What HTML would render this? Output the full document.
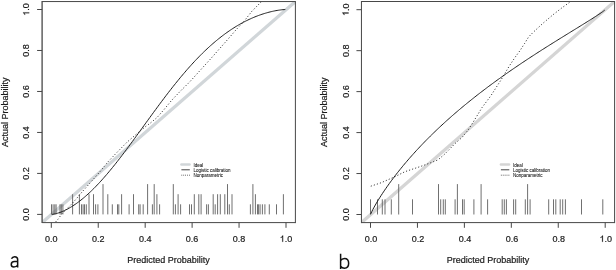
<!DOCTYPE html>
<html><head><meta charset="utf-8"><style>
html,body{margin:0;padding:0;background:#fff;}
svg{display:block;will-change:transform;}
text{font-family:"Liberation Sans",sans-serif;fill:#1a1a1a;stroke:#1a1a1a;stroke-width:0.2px;}
.lg{stroke-width:0.06px;fill:#111;stroke:#111;}
</style></head><body>
<svg width="616" height="270" viewBox="0 0 616 270">
<rect width="616" height="270" fill="#fff"/>
<clipPath id="c51"><rect x="42.1" y="1.55" width="253.3" height="221.05"/></clipPath>
<line x1="42.1" y1="222.6" x2="295.4" y2="1.55" stroke="#d1d6d9" stroke-width="3.3" clip-path="url(#c51)"/>
<line x1="51.5" y1="214.4" x2="51.5" y2="204.3" stroke="#606060" stroke-width="0.9"/>
<line x1="53.1" y1="214.4" x2="53.1" y2="204.3" stroke="#606060" stroke-width="0.9"/>
<line x1="54.8" y1="214.4" x2="54.8" y2="204.3" stroke="#606060" stroke-width="0.9"/>
<line x1="56.1" y1="214.4" x2="56.1" y2="204.3" stroke="#606060" stroke-width="0.9"/>
<line x1="60" y1="214.4" x2="60" y2="204.3" stroke="#606060" stroke-width="0.9"/>
<line x1="61.3" y1="214.4" x2="61.3" y2="204.3" stroke="#606060" stroke-width="0.9"/>
<line x1="62.9" y1="214.4" x2="62.9" y2="204.3" stroke="#606060" stroke-width="0.9"/>
<line x1="72.6" y1="214.4" x2="72.6" y2="194.2" stroke="#606060" stroke-width="0.9"/>
<line x1="79.4" y1="214.4" x2="79.4" y2="194.2" stroke="#606060" stroke-width="0.9"/>
<line x1="81.5" y1="214.4" x2="81.5" y2="204.3" stroke="#606060" stroke-width="0.9"/>
<line x1="83.1" y1="214.4" x2="83.1" y2="204.3" stroke="#606060" stroke-width="0.9"/>
<line x1="84.5" y1="214.4" x2="84.5" y2="204.3" stroke="#606060" stroke-width="0.9"/>
<line x1="86.3" y1="214.4" x2="86.3" y2="204.3" stroke="#606060" stroke-width="0.9"/>
<line x1="89" y1="214.4" x2="89" y2="194.2" stroke="#606060" stroke-width="0.9"/>
<line x1="93.5" y1="214.4" x2="93.5" y2="194.2" stroke="#606060" stroke-width="0.9"/>
<line x1="95.6" y1="214.4" x2="95.6" y2="204.3" stroke="#606060" stroke-width="0.9"/>
<line x1="97.9" y1="214.4" x2="97.9" y2="204.3" stroke="#606060" stroke-width="0.9"/>
<line x1="103" y1="214.4" x2="103" y2="184.1" stroke="#606060" stroke-width="0.9"/>
<line x1="107.8" y1="214.4" x2="107.8" y2="194.2" stroke="#606060" stroke-width="0.9"/>
<line x1="112.3" y1="214.4" x2="112.3" y2="204.3" stroke="#606060" stroke-width="0.9"/>
<line x1="117.5" y1="214.4" x2="117.5" y2="204.3" stroke="#606060" stroke-width="0.9"/>
<line x1="118.8" y1="214.4" x2="118.8" y2="204.3" stroke="#606060" stroke-width="0.9"/>
<line x1="121.6" y1="214.4" x2="121.6" y2="194.2" stroke="#606060" stroke-width="0.9"/>
<line x1="129.1" y1="214.4" x2="129.1" y2="204.3" stroke="#606060" stroke-width="0.9"/>
<line x1="133.5" y1="214.4" x2="133.5" y2="194.2" stroke="#606060" stroke-width="0.9"/>
<line x1="138.7" y1="214.4" x2="138.7" y2="204.3" stroke="#606060" stroke-width="0.9"/>
<line x1="140.1" y1="214.4" x2="140.1" y2="204.3" stroke="#606060" stroke-width="0.9"/>
<line x1="143.2" y1="214.4" x2="143.2" y2="204.3" stroke="#606060" stroke-width="0.9"/>
<line x1="147.6" y1="214.4" x2="147.6" y2="184.1" stroke="#606060" stroke-width="0.9"/>
<line x1="152.4" y1="214.4" x2="152.4" y2="204.3" stroke="#606060" stroke-width="0.9"/>
<line x1="154.2" y1="214.4" x2="154.2" y2="184.1" stroke="#606060" stroke-width="0.9"/>
<line x1="156.9" y1="214.4" x2="156.9" y2="194.2" stroke="#606060" stroke-width="0.9"/>
<line x1="159.6" y1="214.4" x2="159.6" y2="204.3" stroke="#606060" stroke-width="0.9"/>
<line x1="173.3" y1="214.4" x2="173.3" y2="184.1" stroke="#606060" stroke-width="0.9"/>
<line x1="175.4" y1="214.4" x2="175.4" y2="204.3" stroke="#606060" stroke-width="0.9"/>
<line x1="178.1" y1="214.4" x2="178.1" y2="194.2" stroke="#606060" stroke-width="0.9"/>
<line x1="180.6" y1="214.4" x2="180.6" y2="204.3" stroke="#606060" stroke-width="0.9"/>
<line x1="189.5" y1="214.4" x2="189.5" y2="204.3" stroke="#606060" stroke-width="0.9"/>
<line x1="191.5" y1="214.4" x2="191.5" y2="204.3" stroke="#606060" stroke-width="0.9"/>
<line x1="194.3" y1="214.4" x2="194.3" y2="194.2" stroke="#606060" stroke-width="0.9"/>
<line x1="198.8" y1="214.4" x2="198.8" y2="194.2" stroke="#606060" stroke-width="0.9"/>
<line x1="201.1" y1="214.4" x2="201.1" y2="194.2" stroke="#606060" stroke-width="0.9"/>
<line x1="206.6" y1="214.4" x2="206.6" y2="204.3" stroke="#606060" stroke-width="0.9"/>
<line x1="208.4" y1="214.4" x2="208.4" y2="204.3" stroke="#606060" stroke-width="0.9"/>
<line x1="213.2" y1="214.4" x2="213.2" y2="194.2" stroke="#606060" stroke-width="0.9"/>
<line x1="215.2" y1="214.4" x2="215.2" y2="204.3" stroke="#606060" stroke-width="0.9"/>
<line x1="217.6" y1="214.4" x2="217.6" y2="194.2" stroke="#606060" stroke-width="0.9"/>
<line x1="220.3" y1="214.4" x2="220.3" y2="194.2" stroke="#606060" stroke-width="0.9"/>
<line x1="224.8" y1="214.4" x2="224.8" y2="194.2" stroke="#606060" stroke-width="0.9"/>
<line x1="227.5" y1="214.4" x2="227.5" y2="184.1" stroke="#606060" stroke-width="0.9"/>
<line x1="229.3" y1="214.4" x2="229.3" y2="204.3" stroke="#606060" stroke-width="0.9"/>
<line x1="232" y1="214.4" x2="232" y2="194.2" stroke="#606060" stroke-width="0.9"/>
<line x1="250.4" y1="214.4" x2="250.4" y2="204.3" stroke="#606060" stroke-width="0.9"/>
<line x1="252.9" y1="214.4" x2="252.9" y2="184.1" stroke="#606060" stroke-width="0.9"/>
<line x1="255.4" y1="214.4" x2="255.4" y2="194.2" stroke="#606060" stroke-width="0.9"/>
<line x1="257.5" y1="214.4" x2="257.5" y2="204.3" stroke="#606060" stroke-width="0.9"/>
<line x1="258.6" y1="214.4" x2="258.6" y2="204.3" stroke="#606060" stroke-width="0.9"/>
<line x1="260.1" y1="214.4" x2="260.1" y2="204.3" stroke="#606060" stroke-width="0.9"/>
<line x1="262.4" y1="214.4" x2="262.4" y2="204.3" stroke="#606060" stroke-width="0.9"/>
<line x1="264.9" y1="214.4" x2="264.9" y2="204.3" stroke="#606060" stroke-width="0.9"/>
<line x1="269.3" y1="214.4" x2="269.3" y2="204.3" stroke="#606060" stroke-width="0.9"/>
<line x1="276.5" y1="214.4" x2="276.5" y2="204.3" stroke="#606060" stroke-width="0.9"/>
<line x1="283.4" y1="214.4" x2="283.4" y2="194.2" stroke="#606060" stroke-width="0.9"/>
<polyline points="51.77,214.38 52.94,214.25 54.1,214.06 55.27,213.82 56.44,213.53 57.61,213.2 58.78,212.84 59.94,212.43 61.11,212 62.28,211.52 63.45,211.02 64.61,210.49 65.78,209.92 66.95,209.33 68.12,208.71 69.28,208.05 70.45,207.37 71.62,206.67 72.79,205.93 73.95,205.17 75.12,204.38 76.29,203.57 77.46,202.73 78.62,201.87 79.79,200.98 80.96,200.07 82.13,199.13 83.3,198.17 84.46,197.18 85.63,196.18 86.8,195.15 87.97,194.1 89.13,193.02 90.3,191.93 91.47,190.81 92.64,189.67 93.8,188.51 94.97,187.33 96.14,186.14 97.31,184.92 98.47,183.68 99.64,182.43 100.81,181.15 101.98,179.86 103.15,178.56 104.31,177.23 105.48,175.89 106.65,174.53 107.82,173.16 108.98,171.77 110.15,170.37 111.32,168.95 112.49,167.52 113.65,166.08 114.82,164.62 115.99,163.15 117.16,161.67 118.32,160.18 119.49,158.68 120.66,157.17 121.83,155.64 122.99,154.11 124.16,152.57 125.33,151.02 126.5,149.46 127.67,147.9 128.83,146.33 130,144.75 131.17,143.17 132.34,141.58 133.5,139.99 134.67,138.39 135.84,136.79 137.01,135.18 138.17,133.58 139.34,131.97 140.51,130.36 141.68,128.74 142.84,127.13 144.01,125.52 145.18,123.9 146.35,122.29 147.52,120.68 148.68,119.07 149.85,117.46 151.02,115.86 152.19,114.25 153.35,112.66 154.52,111.06 155.69,109.47 156.86,107.88 158.02,106.3 159.19,104.73 160.36,103.16 161.53,101.6 162.69,100.04 163.86,98.49 165.03,96.95 166.2,95.42 167.37,93.89 168.53,92.37 169.7,90.87 170.87,89.37 172.04,87.88 173.2,86.4 174.37,84.93 175.54,83.47 176.71,82.02 177.87,80.58 179.04,79.16 180.21,77.74 181.38,76.34 182.54,74.95 183.71,73.57 184.88,72.21 186.05,70.85 187.21,69.51 188.38,68.19 189.55,66.87 190.72,65.57 191.89,64.28 193.05,63.01 194.22,61.75 195.39,60.51 196.56,59.28 197.72,58.06 198.89,56.86 200.06,55.67 201.23,54.49 202.39,53.34 203.56,52.19 204.73,51.06 205.9,49.95 207.06,48.85 208.23,47.77 209.4,46.7 210.57,45.64 211.74,44.61 212.9,43.58 214.07,42.58 215.24,41.58 216.41,40.61 217.57,39.65 218.74,38.7 219.91,37.77 221.08,36.85 222.24,35.95 223.41,35.07 224.58,34.2 225.75,33.35 226.91,32.51 228.08,31.69 229.25,30.88 230.42,30.09 231.58,29.31 232.75,28.55 233.92,27.8 235.09,27.07 236.26,26.35 237.42,25.65 238.59,24.96 239.76,24.29 240.93,23.63 242.09,22.99 243.26,22.36 244.43,21.75 245.6,21.15 246.76,20.57 247.93,20 249.1,19.45 250.27,18.91 251.43,18.38 252.6,17.87 253.77,17.37 254.94,16.89 256.11,16.42 257.27,15.97 258.44,15.53 259.61,15.1 260.78,14.69 261.94,14.29 263.11,13.91 264.28,13.54 265.45,13.19 266.61,12.85 267.78,12.52 268.95,12.21 270.12,11.91 271.28,11.63 272.45,11.36 273.62,11.11 274.79,10.87 275.95,10.65 277.12,10.45 278.29,10.26 279.46,10.08 280.63,9.93 281.79,9.79 282.96,9.68 284.13,9.58 285.3,9.52" fill="none" stroke="#1e1e1e" stroke-width="1" clip-path="url(#c51)"/>
<polyline points="53.5,224.3 54.7,223 58.4,218.8 61.5,214.2 66.7,209 70.8,204.9 76,199.2 82.2,191.8 88,185.3 94,178.5 100.7,170.8 108,161.8 116.2,153.2 127.1,142.1 137.4,133.3 145,127 150.7,122.8 157,117.6 164,109.6 171.5,100.5 180,91.5 189.8,81.8 210.4,59.1 227.6,39.6 236.4,29.4 244.2,21.1 252,11.1 261.4,1.7 263,-0.5" fill="none" stroke="#1e1e1e" stroke-width="1" stroke-dasharray="1 2.2" clip-path="url(#c51)"/>
<path d="M42.1 1.05V223.1" stroke="#474747" stroke-width="1.3"/>
<path d="M295.4 1.05V223.1M42.1 1.55H295.4M42.1 222.6H295.4" stroke="#474747" stroke-width="1" fill="none"/>
<line x1="51.3" y1="222.6" x2="51.3" y2="227.8" stroke="#474747" stroke-width="1"/>
<text x="51.3" y="241.8" font-size="9" text-anchor="middle">0.0</text>
<line x1="42.1" y1="214.4" x2="37.1" y2="214.4" stroke="#474747" stroke-width="1"/>
<text transform="translate(29.2,214.4) rotate(-90)" font-size="9" text-anchor="middle">0.0</text>
<line x1="98.24" y1="222.6" x2="98.24" y2="227.8" stroke="#474747" stroke-width="1"/>
<text x="98.24" y="241.8" font-size="9" text-anchor="middle">0.2</text>
<line x1="42.1" y1="173.42" x2="37.1" y2="173.42" stroke="#474747" stroke-width="1"/>
<text transform="translate(29.2,173.42) rotate(-90)" font-size="9" text-anchor="middle">0.2</text>
<line x1="145.18" y1="222.6" x2="145.18" y2="227.8" stroke="#474747" stroke-width="1"/>
<text x="145.18" y="241.8" font-size="9" text-anchor="middle">0.4</text>
<line x1="42.1" y1="132.44" x2="37.1" y2="132.44" stroke="#474747" stroke-width="1"/>
<text transform="translate(29.2,132.44) rotate(-90)" font-size="9" text-anchor="middle">0.4</text>
<line x1="192.12" y1="222.6" x2="192.12" y2="227.8" stroke="#474747" stroke-width="1"/>
<text x="192.12" y="241.8" font-size="9" text-anchor="middle">0.6</text>
<line x1="42.1" y1="91.46" x2="37.1" y2="91.46" stroke="#474747" stroke-width="1"/>
<text transform="translate(29.2,91.46) rotate(-90)" font-size="9" text-anchor="middle">0.6</text>
<line x1="239.06" y1="222.6" x2="239.06" y2="227.8" stroke="#474747" stroke-width="1"/>
<text x="239.06" y="241.8" font-size="9" text-anchor="middle">0.8</text>
<line x1="42.1" y1="50.48" x2="37.1" y2="50.48" stroke="#474747" stroke-width="1"/>
<text transform="translate(29.2,50.48) rotate(-90)" font-size="9" text-anchor="middle">0.8</text>
<line x1="286" y1="222.6" x2="286" y2="227.8" stroke="#474747" stroke-width="1"/>
<g transform="translate(286,241.8)"><path d="M763 0H583V1100Q518 1040 412.5 980Q307 920 223 890V1057Q374 1125 487 1222Q600 1318 647 1409H763Z" transform="translate(-6.25,0) scale(0.004395,-0.004395)" fill="#1a1a1a" stroke="#1a1a1a" stroke-width="45"/><text x="-1.25" y="0" font-size="9">.0</text></g>
<line x1="42.1" y1="9.5" x2="37.1" y2="9.5" stroke="#474747" stroke-width="1"/>
<g transform="translate(29.2,9.5) rotate(-90)"><path d="M763 0H583V1100Q518 1040 412.5 980Q307 920 223 890V1057Q374 1125 487 1222Q600 1318 647 1409H763Z" transform="translate(-6.25,0) scale(0.004395,-0.004395)" fill="#1a1a1a" stroke="#1a1a1a" stroke-width="45"/><text x="-1.25" y="0" font-size="9">.0</text></g>
<text x="127.2" y="263.3" font-size="9">Predicted Probability</text>
<text transform="translate(7.9,112.3) rotate(-90)" font-size="9" text-anchor="middle">Actual Probability</text>
<line x1="181.4" y1="164.6" x2="189.5" y2="164.6" stroke="#d1d6d9" stroke-width="2.5" stroke-linecap="round"/>
<line x1="181.4" y1="169.8" x2="189.8" y2="169.8" stroke="#444" stroke-width="1"/>
<line x1="181.4" y1="175.2" x2="189.8" y2="175.2" stroke="#1e1e1e" stroke-width="0.8" stroke-dasharray="0.8 1.1"/>
<text class="lg" x="193.6" y="166.5" font-size="4.5">Ideal</text>
<text class="lg" x="193.6" y="171.9" font-size="4.5">Logistic calibration</text>
<text class="lg" x="193.6" y="177.3" font-size="4.5">Nonparametric</text>
<clipPath id="c370"><rect x="361.45" y="1.5" width="253.15" height="221.1"/></clipPath>
<line x1="361.45" y1="222.6" x2="614.6" y2="1.5" stroke="#d5d5d5" stroke-width="3.3" clip-path="url(#c370)"/>
<line x1="370.5" y1="214.5" x2="370.5" y2="199.3" stroke="#606060" stroke-width="0.9"/>
<line x1="377.5" y1="214.5" x2="377.5" y2="199.3" stroke="#606060" stroke-width="0.9"/>
<line x1="382.3" y1="214.5" x2="382.3" y2="199.3" stroke="#606060" stroke-width="0.9"/>
<line x1="385" y1="214.5" x2="385" y2="199.3" stroke="#606060" stroke-width="0.9"/>
<line x1="391.3" y1="214.5" x2="391.3" y2="199.3" stroke="#606060" stroke-width="0.9"/>
<line x1="398.7" y1="214.5" x2="398.7" y2="184.1" stroke="#606060" stroke-width="0.9"/>
<line x1="412.5" y1="214.5" x2="412.5" y2="199.3" stroke="#606060" stroke-width="0.9"/>
<line x1="438.5" y1="214.5" x2="438.5" y2="184.1" stroke="#606060" stroke-width="0.9"/>
<line x1="440.7" y1="214.5" x2="440.7" y2="199.3" stroke="#606060" stroke-width="0.9"/>
<line x1="443.3" y1="214.5" x2="443.3" y2="199.3" stroke="#606060" stroke-width="0.9"/>
<line x1="445.3" y1="214.5" x2="445.3" y2="199.3" stroke="#606060" stroke-width="0.9"/>
<line x1="455.1" y1="214.5" x2="455.1" y2="199.3" stroke="#606060" stroke-width="0.9"/>
<line x1="457.4" y1="214.5" x2="457.4" y2="184.1" stroke="#606060" stroke-width="0.9"/>
<line x1="462.5" y1="214.5" x2="462.5" y2="199.3" stroke="#606060" stroke-width="0.9"/>
<line x1="464.2" y1="214.5" x2="464.2" y2="199.3" stroke="#606060" stroke-width="0.9"/>
<line x1="473.9" y1="214.5" x2="473.9" y2="199.3" stroke="#606060" stroke-width="0.9"/>
<line x1="481.1" y1="214.5" x2="481.1" y2="184.1" stroke="#606060" stroke-width="0.9"/>
<line x1="487.6" y1="214.5" x2="487.6" y2="199.3" stroke="#606060" stroke-width="0.9"/>
<line x1="502.2" y1="214.5" x2="502.2" y2="199.3" stroke="#606060" stroke-width="0.9"/>
<line x1="504.3" y1="214.5" x2="504.3" y2="199.3" stroke="#606060" stroke-width="0.9"/>
<line x1="506.4" y1="214.5" x2="506.4" y2="199.3" stroke="#606060" stroke-width="0.9"/>
<line x1="513.6" y1="214.5" x2="513.6" y2="199.3" stroke="#606060" stroke-width="0.9"/>
<line x1="515.7" y1="214.5" x2="515.7" y2="199.3" stroke="#606060" stroke-width="0.9"/>
<line x1="525.3" y1="214.5" x2="525.3" y2="199.3" stroke="#606060" stroke-width="0.9"/>
<line x1="527.6" y1="214.5" x2="527.6" y2="184.1" stroke="#606060" stroke-width="0.9"/>
<line x1="530.1" y1="214.5" x2="530.1" y2="199.3" stroke="#606060" stroke-width="0.9"/>
<line x1="548.7" y1="214.5" x2="548.7" y2="199.3" stroke="#606060" stroke-width="0.9"/>
<line x1="553.5" y1="214.5" x2="553.5" y2="199.3" stroke="#606060" stroke-width="0.9"/>
<line x1="555.8" y1="214.5" x2="555.8" y2="199.3" stroke="#606060" stroke-width="0.9"/>
<line x1="560.2" y1="214.5" x2="560.2" y2="199.3" stroke="#606060" stroke-width="0.9"/>
<line x1="562.7" y1="214.5" x2="562.7" y2="199.3" stroke="#606060" stroke-width="0.9"/>
<line x1="565.4" y1="214.5" x2="565.4" y2="199.3" stroke="#606060" stroke-width="0.9"/>
<line x1="581.5" y1="214.5" x2="581.5" y2="199.3" stroke="#606060" stroke-width="0.9"/>
<line x1="602.8" y1="214.5" x2="602.8" y2="199.3" stroke="#606060" stroke-width="0.9"/>
<polyline points="370.62,214.17 371.79,211.6 372.96,209.3 374.13,207.13 375.3,205.05 376.47,203.03 377.64,201.07 378.81,199.16 379.98,197.29 381.15,195.46 382.32,193.67 383.49,191.9 384.66,190.17 385.83,188.46 387.01,186.78 388.18,185.13 389.35,183.49 390.52,181.88 391.69,180.3 392.86,178.73 394.03,177.18 395.2,175.65 396.37,174.14 397.54,172.64 398.71,171.17 399.88,169.7 401.05,168.26 402.22,166.83 403.39,165.41 404.56,164.01 405.73,162.62 406.9,161.25 408.08,159.89 409.25,158.54 410.42,157.2 411.59,155.88 412.76,154.57 413.93,153.27 415.1,151.98 416.27,150.7 417.44,149.43 418.61,148.18 419.78,146.93 420.95,145.69 422.12,144.47 423.29,143.25 424.46,142.04 425.63,140.84 426.8,139.65 427.98,138.47 429.15,137.3 430.32,136.14 431.49,134.98 432.66,133.84 433.83,132.7 435,131.57 436.17,130.45 437.34,129.33 438.51,128.23 439.68,127.13 440.85,126.03 442.02,124.95 443.19,123.87 444.36,122.8 445.53,121.73 446.7,120.67 447.87,119.62 449.05,118.58 450.22,117.54 451.39,116.51 452.56,115.48 453.73,114.46 454.9,113.45 456.07,112.44 457.24,111.44 458.41,110.44 459.58,109.45 460.75,108.46 461.92,107.48 463.09,106.51 464.26,105.54 465.43,104.58 466.6,103.62 467.77,102.66 468.94,101.71 470.12,100.77 471.29,99.83 472.46,98.9 473.63,97.97 474.8,97.04 475.97,96.12 477.14,95.2 478.31,94.29 479.48,93.38 480.65,92.48 481.82,91.58 482.99,90.69 484.16,89.8 485.33,88.91 486.5,88.03 487.67,87.15 488.84,86.28 490.02,85.41 491.19,84.54 492.36,83.68 493.53,82.82 494.7,81.96 495.87,81.11 497.04,80.26 498.21,79.42 499.38,78.58 500.55,77.74 501.72,76.9 502.89,76.07 504.06,75.24 505.23,74.42 506.4,73.6 507.57,72.78 508.74,71.96 509.91,71.15 511.09,70.34 512.26,69.53 513.43,68.73 514.6,67.93 515.77,67.13 516.94,66.33 518.11,65.54 519.28,64.75 520.45,63.96 521.62,63.18 522.79,62.39 523.96,61.61 525.13,60.84 526.3,60.06 527.47,59.29 528.64,58.52 529.81,57.75 530.98,56.98 532.16,56.22 533.33,55.46 534.5,54.7 535.67,53.94 536.84,53.18 538.01,52.43 539.18,51.68 540.35,50.93 541.52,50.18 542.69,49.43 543.86,48.69 545.03,47.95 546.2,47.21 547.37,46.47 548.54,45.73 549.71,44.99 550.88,44.26 552.06,43.52 553.23,42.79 554.4,42.06 555.57,41.33 556.74,40.6 557.91,39.87 559.08,39.14 560.25,38.42 561.42,37.69 562.59,36.97 563.76,36.25 564.93,35.52 566.1,34.8 567.27,34.08 568.44,33.36 569.61,32.64 570.78,31.92 571.95,31.2 573.13,30.48 574.3,29.76 575.47,29.04 576.64,28.32 577.81,27.6 578.98,26.88 580.15,26.16 581.32,25.43 582.49,24.71 583.66,23.99 584.83,23.26 586,22.53 587.17,21.8 588.34,21.07 589.51,20.34 590.68,19.6 591.85,18.86 593.02,18.12 594.2,17.37 595.37,16.61 596.54,15.85 597.71,15.09 598.88,14.31 600.05,13.52 601.22,12.72 602.39,11.9 603.56,11.04 604.73,10.13" fill="none" stroke="#1e1e1e" stroke-width="1" clip-path="url(#c370)"/>
<polyline points="370.8,186.2 381,182.8 394.7,176.8 404.9,171.7 421,166.3 429.6,163.2 438.1,159.8 444.9,153.9 455.1,143.5 462,137.5 468,130.2 474,120.8 482,107.6 490.7,96 501.3,79.5 509.3,66 515.3,57 520,50.6 524.5,43.6 528.7,36.8 533.3,32.2 537.5,28.3 542.7,23.5 548,19 553.3,14.5 561.7,8 569.2,2.6 572,0.5" fill="none" stroke="#1e1e1e" stroke-width="1" stroke-dasharray="1 2.2" clip-path="url(#c370)"/>
<path d="M361.45 1V223.1" stroke="#474747" stroke-width="1"/>
<path d="M614.6 1V223.1M361.45 1.5H614.6M361.45 222.6H614.6" stroke="#474747" stroke-width="1" fill="none"/>
<line x1="370.5" y1="222.6" x2="370.5" y2="227.8" stroke="#474747" stroke-width="1"/>
<text x="371.1" y="241.8" font-size="9" text-anchor="middle">0.0</text>
<line x1="361.45" y1="214.5" x2="356.45" y2="214.5" stroke="#474747" stroke-width="1"/>
<text transform="translate(348.55,214.5) rotate(-90)" font-size="9" text-anchor="middle">0.0</text>
<line x1="417.44" y1="222.6" x2="417.44" y2="227.8" stroke="#474747" stroke-width="1"/>
<text x="418.04" y="241.8" font-size="9" text-anchor="middle">0.2</text>
<line x1="361.45" y1="173.54" x2="356.45" y2="173.54" stroke="#474747" stroke-width="1"/>
<text transform="translate(348.55,173.54) rotate(-90)" font-size="9" text-anchor="middle">0.2</text>
<line x1="464.38" y1="222.6" x2="464.38" y2="227.8" stroke="#474747" stroke-width="1"/>
<text x="464.98" y="241.8" font-size="9" text-anchor="middle">0.4</text>
<line x1="361.45" y1="132.58" x2="356.45" y2="132.58" stroke="#474747" stroke-width="1"/>
<text transform="translate(348.55,132.58) rotate(-90)" font-size="9" text-anchor="middle">0.4</text>
<line x1="511.32" y1="222.6" x2="511.32" y2="227.8" stroke="#474747" stroke-width="1"/>
<text x="511.92" y="241.8" font-size="9" text-anchor="middle">0.6</text>
<line x1="361.45" y1="91.62" x2="356.45" y2="91.62" stroke="#474747" stroke-width="1"/>
<text transform="translate(348.55,91.62) rotate(-90)" font-size="9" text-anchor="middle">0.6</text>
<line x1="558.26" y1="222.6" x2="558.26" y2="227.8" stroke="#474747" stroke-width="1"/>
<text x="558.86" y="241.8" font-size="9" text-anchor="middle">0.8</text>
<line x1="361.45" y1="50.66" x2="356.45" y2="50.66" stroke="#474747" stroke-width="1"/>
<text transform="translate(348.55,50.66) rotate(-90)" font-size="9" text-anchor="middle">0.8</text>
<line x1="605.2" y1="222.6" x2="605.2" y2="227.8" stroke="#474747" stroke-width="1"/>
<g transform="translate(605.8,241.8)"><path d="M763 0H583V1100Q518 1040 412.5 980Q307 920 223 890V1057Q374 1125 487 1222Q600 1318 647 1409H763Z" transform="translate(-6.25,0) scale(0.004395,-0.004395)" fill="#1a1a1a" stroke="#1a1a1a" stroke-width="45"/><text x="-1.25" y="0" font-size="9">.0</text></g>
<line x1="361.45" y1="9.7" x2="356.45" y2="9.7" stroke="#474747" stroke-width="1"/>
<g transform="translate(348.55,9.7) rotate(-90)"><path d="M763 0H583V1100Q518 1040 412.5 980Q307 920 223 890V1057Q374 1125 487 1222Q600 1318 647 1409H763Z" transform="translate(-6.25,0) scale(0.004395,-0.004395)" fill="#1a1a1a" stroke="#1a1a1a" stroke-width="45"/><text x="-1.25" y="0" font-size="9">.0</text></g>
<text x="446.7" y="263.3" font-size="9">Predicted Probability</text>
<text transform="translate(327.25,112.3) rotate(-90)" font-size="9" text-anchor="middle">Actual Probability</text>
<line x1="500.9" y1="164.6" x2="509" y2="164.6" stroke="#d5d5d5" stroke-width="2.5" stroke-linecap="round"/>
<line x1="500.9" y1="169.8" x2="509.3" y2="169.8" stroke="#444" stroke-width="1"/>
<line x1="500.9" y1="175.2" x2="509.3" y2="175.2" stroke="#1e1e1e" stroke-width="0.8" stroke-dasharray="0.8 1.1"/>
<text class="lg" x="513.1" y="166.5" font-size="4.5">Ideal</text>
<text class="lg" x="513.1" y="171.9" font-size="4.5">Logistic calibration</text>
<text class="lg" x="513.1" y="177.3" font-size="4.5">Nonparametric</text>
<path d="M11.5 258.7C12.1 257.3 13.2 256.65 14.6 256.65C16.7 256.65 17.65 257.7 17.65 259.6L17.65 267.6M17.65 261.6L14.5 261.6C12.4 261.6 11.25 262.7 11.25 264.4C11.25 266 12.4 266.9 13.9 266.9C15.6 266.9 16.9 266.1 17.65 265.1" fill="none" stroke="#111" stroke-width="1.5"/>
<path d="M340.6 253.7L340.6 268.9M340.6 260.6C341.5 259.1 342.9 258.45 344.5 258.45C347.1 258.45 348.65 260.5 348.65 263.35C348.65 266.2 347.1 268.25 344.5 268.25C342.9 268.25 341.5 267.6 340.6 266.1" fill="none" stroke="#111" stroke-width="1.5"/>
</svg>
</body></html>
